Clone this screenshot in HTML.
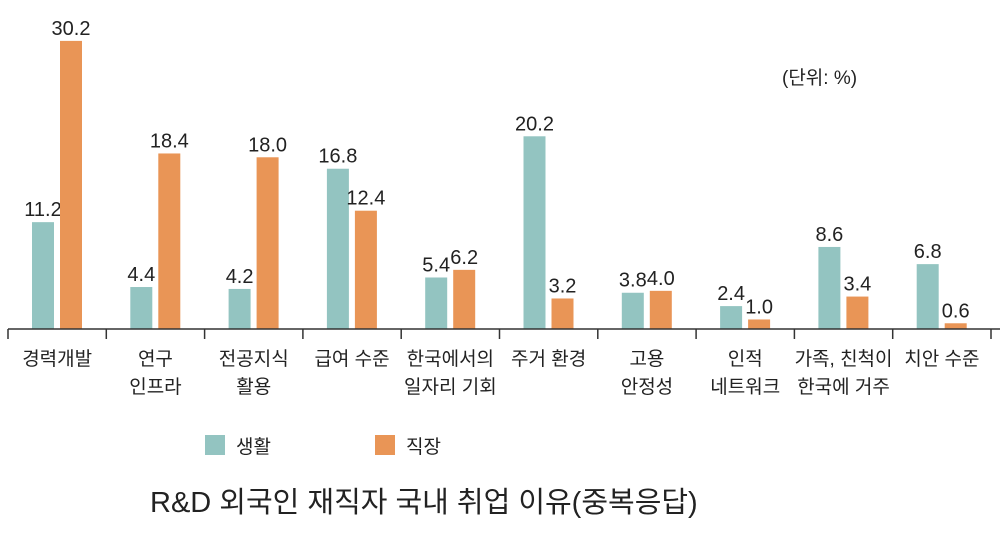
<!DOCTYPE html>
<html><head><meta charset="utf-8"><style>
body{margin:0;background:#fff;width:1000px;height:546px;overflow:hidden;font-family:"Liberation Sans","Noto Sans CJK KR",sans-serif}
svg text{font-family:"Liberation Sans Narrow","Liberation Sans","Noto Sans CJK KR",sans-serif;fill:#222}
.cat{font-family:"Liberation Sans","Noto Sans CJK KR",sans-serif;font-size:19px}
</style></head><body>
<svg id="chart" width="1000" height="546" xmlns="http://www.w3.org/2000/svg">
<text x="782" y="84" font-size="19" style="font-family:'Liberation Sans','Noto Sans CJK KR',sans-serif">(단위: %)</text>
<g id="bars"></g>
<line x1="8" y1="329" x2="1000" y2="329" stroke="#333" stroke-width="1.5"/>
<g id="ticks"></g>
<g id="labels"></g>
<rect x="205" y="435" width="20" height="20" fill="#93c4c1"/>
<text x="236" y="453" font-size="20" class="cat">생활</text>
<rect x="375" y="435" width="20" height="20" fill="#e99556"/>
<text x="406" y="453" font-size="20" class="cat">직장</text>
<text x="150" y="512" font-size="29" style="font-family:'Liberation Sans','Noto Sans CJK KR',sans-serif">R&amp;D 외국인 재직자 국내 취업 이유(중복응답)</text>
</svg>
<script>
const categories=[["경력개발"],["연구","인프라"],["전공지식","활용"],["급여 수준"],["한국에서의","일자리 기회"],["주거 환경"],["고용","안정성"],["인적","네트워크"],["가족, 친척이","한국에 거주"],["치안 수준"]];
const lifeValues=[11.2,4.4,4.2,16.8,5.4,20.2,3.8,2.4,8.6,6.8];
const workValues=[30.2,18.4,18.0,12.4,6.2,3.2,4.0,1.0,3.4,0.6];
const ns="http://www.w3.org/2000/svg";
const x0=8,gw=98.3,base=329,pxPerUnit=9.54,bw=22;
const y=v=>base-v*pxPerUnit;
const gx=i=>x0+i*gw;
const bars=document.getElementById('bars'),ticks=document.getElementById('ticks'),labels=document.getElementById('labels');
function mk(tag,attrs,parent){const e=document.createElementNS(ns,tag);for(const k in attrs)e.setAttribute(k,attrs[k]);parent.appendChild(e);return e;}
for(let i=0;i<=categories.length;i++){
  const t=mk('line',{x1:gx(i),x2:gx(i),y1:base,y2:base+10,stroke:'#333','stroke-width':1.5},ticks);
  
  
}
categories.forEach((c,i)=>{
  [[lifeValues[i],24,'#93c4c1','life'],[workValues[i],52,'#e99556','work']].forEach(([v,off,col,s])=>{
    const x=gx(i)+off;
    const r=mk('rect',{x:x,y:y(v),width:bw,height:base-y(v),fill:col},bars);
    
    
    const t=mk('text',{x:x+bw/2,y:y(v)-6,'text-anchor':'middle','font-size':20},bars);
    t.textContent=v.toFixed(1);
    
    
  });
  c.forEach((line,j)=>{
    const t=mk('text',{x:gx(i)+gw/2,y:365+j*28,'text-anchor':'middle',class:'cat'},labels);
    t.textContent=line;
    
    
  });
});
</script>
</body></html>
